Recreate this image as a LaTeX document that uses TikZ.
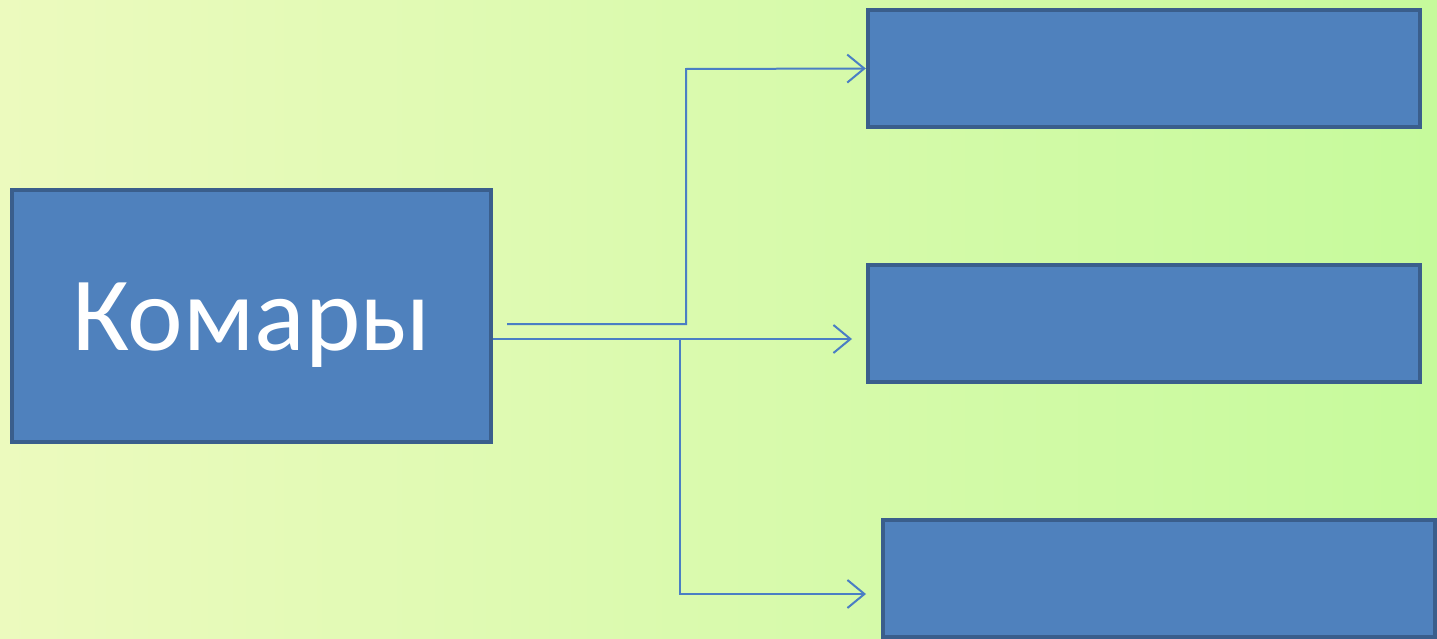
\documentclass[tikz,border=0pt]{standalone}
\usepackage{fontspec}
\setmainfont{Carlito}
\usepackage{xcolor}
\definecolor{boxfill}{RGB}{79,129,189}
\definecolor{boxedge}{RGB}{58,94,140}
\definecolor{linkblue}{RGB}{74,126,196}
\definecolor{bgleft}{RGB}{236,250,190}
\definecolor{bgmid}{RGB}{210,250,164}
\definecolor{bgright}{RGB}{198,250,156}
\usepackage{tikz}
\usetikzlibrary{arrows.meta}
\newcommand{\widthmain}{9.58cm}
\newcommand{\heightmain}{5.04cm}
\newcommand{\widthbox}{11.04cm}
\newcommand{\heightbox}{2.34cm}
\tikzset{
    common/.style={draw=boxedge, fill=boxfill, line width=0.09cm, rectangle, inner sep=0pt},
    mainbox/.style={common, minimum width=\widthmain, minimum height=\heightmain,
        text=white, font=\fontsize{60}{62}\selectfont, text height=1.4cm, text depth=0pt},
    sidebox/.style={common, minimum width=\widthbox, minimum height=\heightbox},
    link/.style={draw=linkblue, line width=0.04cm},
    linkarrow/.style={link, -{Straight Barb[length=0.34cm, width=0.56cm, line width=0.04cm]}}
}

\begin{document}
\begin{tikzpicture}[x=0.02cm, y=-0.02cm]
    \useasboundingbox (0,0) rectangle (1437,639);
    \shade[left color=bgleft, middle color=bgmid, right color=bgright] (0,0) rectangle (1437,639);

    \node[mainbox] (komary) at (251.5,316) {Комары};
    \node[sidebox] (box1) at (1144,68.5) {};
    \node[sidebox] (box2) at (1144,323.5) {};
    \node[sidebox] (box3) at (1159,578.5) {};

    \coordinate (start1) at (507,324);
    \coordinate (start2) at (komary.east |- 0,339);
    \coordinate (fork) at (680,339);
    \coordinate (tip2) at (852,339);
    \coordinate (tip3) at (866,594);

    \draw[linkarrow] (start1) -| (686,69) -- (box1.west);
    \draw[linkarrow] (start2) -- (tip2);
    \draw[linkarrow] (fork) |- (tip3);
\end{tikzpicture}
\end{document}
